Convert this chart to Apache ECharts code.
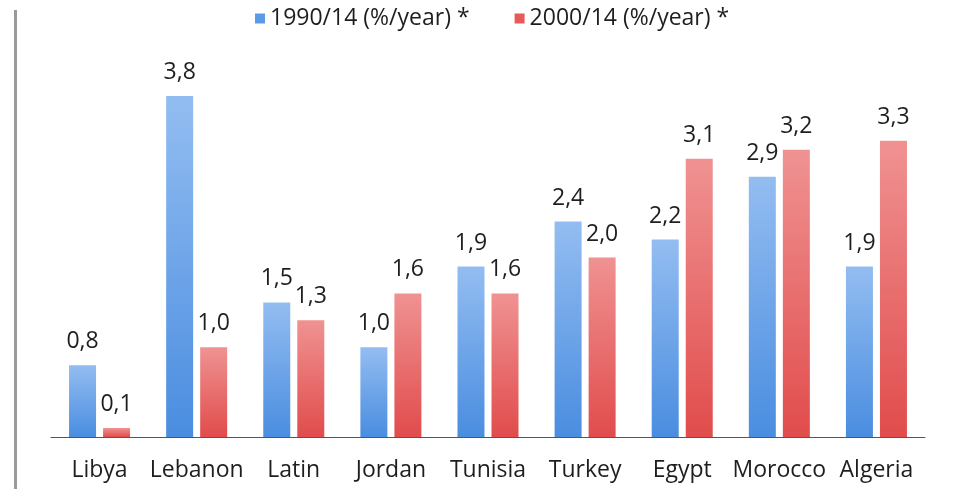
<!DOCTYPE html>
<html>
<head>
<meta charset="utf-8">
<script src="https://cdn.jsdelivr.net/npm/echarts@6/dist/echarts.min.js"></script>
<style>
  html, body { margin: 0; padding: 0; background: #ffffff; }
  #chart { width: 955px; height: 489px; }
</style>
</head>
<body>
<div id="chart"></div>
<script>
// Average annual growth by country
const countries = ['Libya', 'Lebanon', 'Latin', 'Jordan', 'Tunisia', 'Turkey', 'Egypt', 'Morocco', 'Algeria'];
const growth1990 = [0.8, 3.8, 1.5, 1.0, 1.9, 2.4, 2.2, 2.9, 1.9];
const growth2000 = [0.1, 1.0, 1.3, 1.6, 1.6, 2.0, 3.1, 3.2, 3.3];
const seriesNames = ['1990/14 (%/year) *', '2000/14 (%/year) *'];

const fontFamily = '"Open Sans", "Liberation Sans", sans-serif';

function vGrad(top, bottom) {
  return new echarts.graphic.LinearGradient(0, 0, 0, 1, [
    { offset: 0, color: top },
    { offset: 1, color: bottom }
  ]);
}

const commaFmt = p => p.value.toFixed(1).replace('.', ',');

const labelStyle = {
  show: true,
  position: 'top',
  distance: 12,
  color: '#1e1e1e',
  fontSize: 23,
  fontFamily: fontFamily,
  formatter: commaFmt
};

const chart = echarts.init(document.getElementById('chart'), null, { renderer: 'canvas' });
chart.setOption({
  animation: false,
  backgroundColor: '#ffffff',
  legend: {
    top: 2,
    left: 250,
    itemWidth: 10,
    itemHeight: 10,
    itemGap: 45,
    icon: 'rect',
    textStyle: { fontSize: 23, color: '#1e1e1e', fontFamily: fontFamily },
    data: [
      { name: seriesNames[0], itemStyle: { color: '#5a9be6' } },
      { name: seriesNames[1], itemStyle: { color: '#e65a5a' } }
    ]
  },
  grid: { left: 51, right: 30, top: 78, bottom: 52, containLabel: false },
  xAxis: {
    type: 'category',
    data: countries,
    axisTick: { show: false },
    axisLine: { lineStyle: { color: '#555555', width: 1 } },
    axisLabel: { interval: 0, color: '#1e1e1e', fontSize: 23, fontFamily: fontFamily, margin: 22 }
  },
  yAxis: {
    type: 'value',
    min: 0,
    max: 4,
    show: false,
    splitLine: { show: false }
  },
  graphic: [
    {
      type: 'rect',
      left: 14,
      top: 10,
      shape: { width: 3, height: 479 },
      style: { fill: '#9a9a9a' }
    }
  ],
  series: [
    {
      name: seriesNames[0],
      type: 'bar',
      data: growth1990,
      barWidth: 27,
      barGap: '26%',
      itemStyle: { color: vGrad('#93bdf1', '#4a8de0') },
      label: labelStyle
    },
    {
      name: seriesNames[1],
      type: 'bar',
      data: growth2000,
      barWidth: 27,
      itemStyle: { color: vGrad('#f09292', '#e14c4c') },
      label: labelStyle
    }
  ]
});
</script>
</body>
</html>
